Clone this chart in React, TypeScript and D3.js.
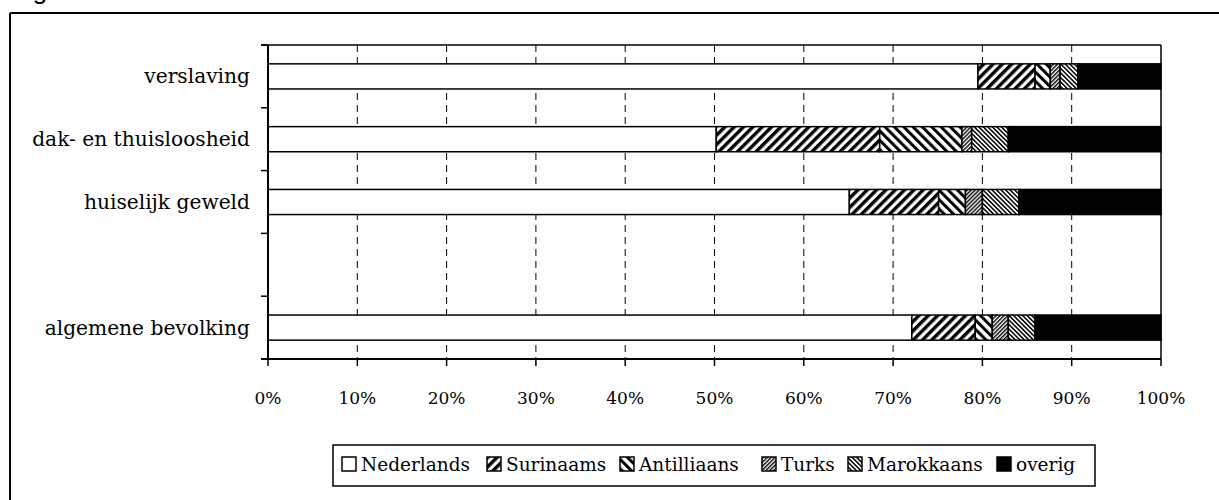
import React from "react";
import * as d3 from "d3";

// ---------- data ----------
const categories = ["verslaving", "dak- en thuisloosheid", "huiselijk geweld", "", "algemene bevolking"];
const seriesNames = ["Nederlands", "Surinaams", "Antilliaans", "Turks", "Marokkaans", "overig"];
const nederlands = [79.5, 50.2, 65.1, null, 72.1];
const surinaams = [6.4, 18.3, 10.0, null, 7.1];
const antilliaans = [1.7, 9.2, 3.0, null, 1.9];
const turks = [1.1, 1.1, 1.9, null, 1.8];
const marokkaans = [2.0, 4.1, 4.1, null, 3.0];
const overig = [9.3, 17.1, 15.9, null, 14.1];
const tickValues = [0, 0.1, 0.2, 0.3, 0.4, 0.5, 0.6, 0.7, 0.8, 0.9, 1.0];

// ---------- layout ----------
const W = 1219;
const H = 500;
const plot = { left: 268, right: 1161, top: 45, bottom: 359 };
const serif = "'DejaVu Serif', serif";
const fills = ["#ffffff", "url(#pSur)", "url(#pAnt)", "url(#pTur)", "url(#pMar)", "#000000"];
const legendBox = { x: 333, y: 445, w: 762, h: 41 };
const legendX = [342, 487, 620, 762, 848, 997];

export default function App() {
  const seriesValues = [nederlands, surinaams, antilliaans, turks, marokkaans, overig];
  const rows = categories.map((c, i) => {
    const r: any = { cat: c, empty: nederlands[i] === null };
    seriesNames.forEach((s, j) => (r[s] = (seriesValues[j][i] ?? 0) / 100));
    return r;
  });
  const stacked = d3.stack<any>().keys(seriesNames)(rows);

  const x = d3.scaleLinear().domain([0, 1]).range([plot.left, plot.right]);
  const y = d3
    .scaleBand<string>()
    .domain(categories.map((c, i) => i + ""))
    .range([plot.top, plot.bottom])
    .paddingInner(0.6)
    .paddingOuter(0.3);
  const step = y.step();
  const boundaries = d3.range(categories.length + 1).map((i) => plot.top + i * step);
  const fmt = d3.format(".0%");

  return (
    <svg
      width={W}
      height={H}
      style={{ position: "absolute", left: 0, top: 0, display: "block", background: "#fff" }}
    >
      <defs>
        <pattern id="pSur" patternUnits="userSpaceOnUse" width={6.6} height={6.6} patternTransform="rotate(45)">
          <rect x={0} y={0} width={6.6} height={6.6} fill="#fff" />
          <rect x={0} y={0} width={3.4} height={6.6} fill="#000" />
        </pattern>
        <pattern id="pAnt" patternUnits="userSpaceOnUse" width={6.6} height={6.6} patternTransform="rotate(-45)">
          <rect x={0} y={0} width={6.6} height={6.6} fill="#fff" />
          <rect x={0} y={0} width={3.0} height={6.6} fill="#000" />
        </pattern>
        <pattern id="pTur" patternUnits="userSpaceOnUse" width={2.8} height={2.8} patternTransform="rotate(45)">
          <rect x={0} y={0} width={2.8} height={2.8} fill="#fff" />
          <rect x={0} y={0} width={1.4} height={2.8} fill="#000" />
        </pattern>
        <pattern id="pMar" patternUnits="userSpaceOnUse" width={3.2} height={3.2} patternTransform="rotate(-45)">
          <rect x={0} y={0} width={3.2} height={3.2} fill="#fff" />
          <rect x={0} y={0} width={1.5} height={3.2} fill="#000" />
        </pattern>
      </defs>

      {/* heading above the frame, cut off by the page top as in the reference */}
      <text x={11} y={-1} fontFamily="'Liberation Sans', Arial, sans-serif" fontSize={26} fill="#000">
        Figuur
      </text>

      {/* outer frame */}
      <line x1={10} y1={13} x2={W} y2={13} stroke="#000" strokeWidth={2} />
      <line x1={10} y1={13} x2={10} y2={H} stroke="#000" strokeWidth={2} />

      {/* gridlines */}
      {tickValues.slice(1, -1).map((t) => (
        <line
          key={"g" + t}
          x1={x(t)}
          x2={x(t)}
          y1={plot.top}
          y2={plot.bottom}
          stroke="#000"
          strokeWidth={1}
          strokeDasharray="7,5"
        />
      ))}

      {/* bars */}
      {stacked.map((layer, j) => (
        <g key={layer.key}>
          {layer.map((d, i) =>
            rows[i].empty ? null : (
              <rect
                key={i}
                x={x(d[0])}
                y={y(i + "")!}
                width={x(d[1]) - x(d[0])}
                height={y.bandwidth()}
                fill={fills[j]}
                stroke="#000"
                strokeWidth={1.5}
              />
            )
          )}
        </g>
      ))}

      {/* plot frame top/right */}
      <line x1={plot.left - 7} y1={plot.top} x2={plot.right} y2={plot.top} stroke="#000" strokeWidth={1.5} />
      <line x1={plot.right} y1={plot.top} x2={plot.right} y2={plot.bottom} stroke="#000" strokeWidth={1.5} />

      {/* y axis */}
      <line x1={plot.left} y1={plot.top} x2={plot.left} y2={plot.bottom} stroke="#000" strokeWidth={2} />
      {boundaries.map((b, i) => (
        <line key={"yt" + i} x1={plot.left - 7} x2={plot.left} y1={b} y2={b} stroke="#000" strokeWidth={1.5} />
      ))}
      {categories.map((c, i) => (
        <text
          key={"c" + i}
          x={plot.left - 18}
          y={y(i + "")! + y.bandwidth() / 2}
          textAnchor="end"
          dominantBaseline="central"
          fontFamily={serif}
          fontSize={20.2}
          fill="#000"
        >
          {c}
        </text>
      ))}

      {/* x axis */}
      <line x1={plot.left - 7} y1={plot.bottom} x2={plot.right} y2={plot.bottom} stroke="#000" strokeWidth={2} />
      {tickValues.map((t) => (
        <g key={"xt" + t}>
          <line x1={x(t)} x2={x(t)} y1={plot.bottom} y2={plot.bottom + 7} stroke="#000" strokeWidth={1.5} />
          <text
            x={x(t)}
            y={398}
            textAnchor="middle"
            dominantBaseline="central"
            fontFamily={serif}
            fontSize={17}
            fill="#000"
          >
            {fmt(t)}
          </text>
        </g>
      ))}

      {/* legend */}
      <rect
        x={legendBox.x}
        y={legendBox.y}
        width={legendBox.w}
        height={legendBox.h}
        fill="#fff"
        stroke="#000"
        strokeWidth={1.5}
      />
      {seriesNames.map((s, j) => (
        <g key={"l" + s}>
          <rect x={legendX[j]} y={457} width={14} height={14} fill={fills[j]} stroke="#000" strokeWidth={1.5} />
          <text x={legendX[j] + 19} y={471} fontFamily={serif} fontSize={18.5} fill="#000">
            {s}
          </text>
        </g>
      ))}
    </svg>
  );
}
